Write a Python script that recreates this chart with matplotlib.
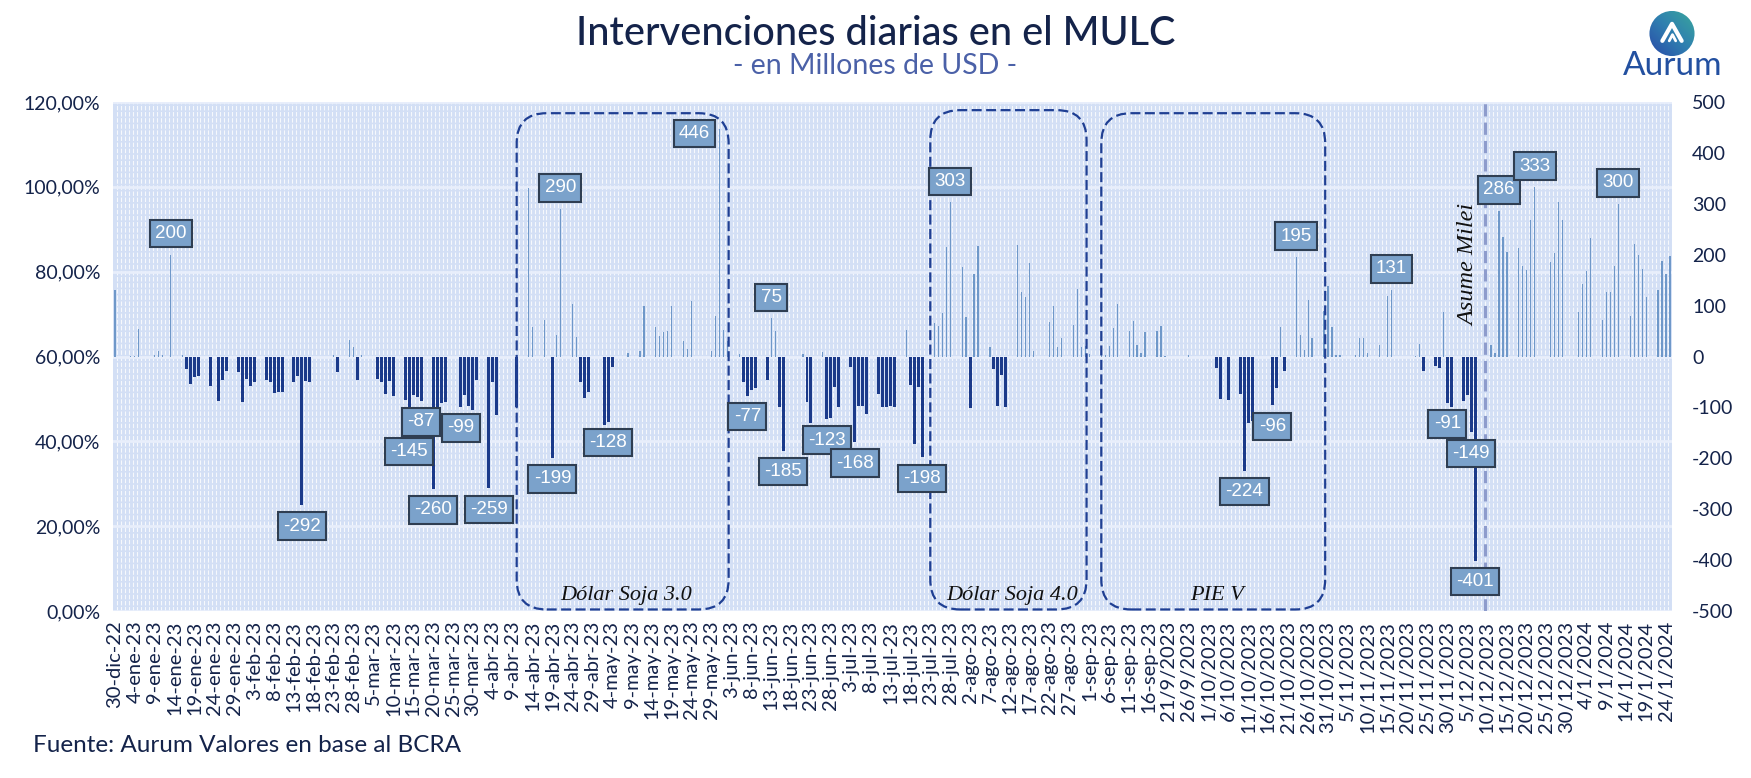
import matplotlib
matplotlib.use("Agg")
import matplotlib.pyplot as plt
from matplotlib.patches import FancyBboxPatch, Circle
import numpy as np
import pandas as pd

# Intervenciones diarias del BCRA en el MULC, millones de USD
ene_mar_23 = [
    ("2022-12-30", 131), ("2023-01-03", 1), ("2023-01-04", 1), ("2023-01-05", 54),
    ("2023-01-09", 3), ("2023-01-10", 11), ("2023-01-11", 3), ("2023-01-13", 200),
    ("2023-01-16", 3), ("2023-01-17", -25), ("2023-01-18", -54), ("2023-01-19", -41),
    ("2023-01-20", -38), ("2023-01-23", -58), ("2023-01-25", -87), ("2023-01-26", -46),
    ("2023-01-27", -29), ("2023-01-30", -31), ("2023-01-31", -90), ("2023-02-01", -45),
    ("2023-02-02", -58), ("2023-02-03", -50), ("2023-02-06", -46), ("2023-02-07", -50),
    ("2023-02-08", -72), ("2023-02-09", -70), ("2023-02-10", -70), ("2023-02-13", -50),
    ("2023-02-14", -39), ("2023-02-15", -292), ("2023-02-16", -48), ("2023-02-17", -50),
    ("2023-02-23", 3), ("2023-02-24", -31), ("2023-02-27", 33), ("2023-02-28", 19),
    ("2023-03-01", -46), ("2023-03-02", 2), ("2023-03-06", -45), ("2023-03-07", -51),
    ("2023-03-08", -73), ("2023-03-09", -49), ("2023-03-10", -77), ("2023-03-13", -86),
    ("2023-03-14", -145), ("2023-03-15", -75), ("2023-03-16", -80), ("2023-03-17", -87),
    ("2023-03-20", -260), ("2023-03-21", -100), ("2023-03-22", -92), ("2023-03-23", -90),
    ("2023-03-27", -99), ("2023-03-28", -76), ("2023-03-29", -97), ("2023-03-30", -105),
    ("2023-03-31", -46),
]
abr_jun_23 = [
    ("2023-04-03", -259), ("2023-04-04", -51), ("2023-04-05", -115), ("2023-04-10", -100),
    ("2023-04-13", 331), ("2023-04-14", 58), ("2023-04-17", 72), ("2023-04-19", -199),
    ("2023-04-20", 43), ("2023-04-21", 290), ("2023-04-24", 104), ("2023-04-25", 39),
    ("2023-04-26", -51), ("2023-04-27", -82), ("2023-04-28", -69), ("2023-05-02", -134),
    ("2023-05-03", -128), ("2023-05-04", -20), ("2023-05-08", 6), ("2023-05-11", 10),
    ("2023-05-12", 100), ("2023-05-15", 58), ("2023-05-16", 41), ("2023-05-17", 49),
    ("2023-05-18", 50), ("2023-05-19", 100), ("2023-05-22", 31), ("2023-05-23", 14),
    ("2023-05-24", 109), ("2023-05-29", 11), ("2023-05-30", 80), ("2023-05-31", 446),
    ("2023-06-01", 52), ("2023-06-02", 31), ("2023-06-05", 4), ("2023-06-06", -51),
    ("2023-06-07", -77), ("2023-06-08", -65), ("2023-06-09", -61), ("2023-06-12", -46),
    ("2023-06-13", 75), ("2023-06-14", 50), ("2023-06-15", -99), ("2023-06-16", -185),
    ("2023-06-21", 4), ("2023-06-22", -90), ("2023-06-23", -130), ("2023-06-26", 8),
    ("2023-06-27", -123), ("2023-06-28", -120), ("2023-06-29", -59), ("2023-06-30", -100),
]
jul_sep_23 = [
    ("2023-07-03", -20), ("2023-07-04", -168), ("2023-07-05", -98), ("2023-07-06", -98),
    ("2023-07-07", -113), ("2023-07-10", -74), ("2023-07-11", -99), ("2023-07-12", -100),
    ("2023-07-13", -98), ("2023-07-14", -100), ("2023-07-17", 52), ("2023-07-18", -56),
    ("2023-07-19", -172), ("2023-07-20", -59), ("2023-07-21", -198), ("2023-07-24", 65),
    ("2023-07-25", 60), ("2023-07-26", 86), ("2023-07-27", 216), ("2023-07-28", 303),
    ("2023-07-31", 175), ("2023-08-01", 77), ("2023-08-02", -101), ("2023-08-03", 163),
    ("2023-08-04", 217), ("2023-08-07", 19), ("2023-08-08", -25), ("2023-08-09", -98),
    ("2023-08-10", -37), ("2023-08-11", -99), ("2023-08-14", 219), ("2023-08-15", 126),
    ("2023-08-16", 116), ("2023-08-17", 184), ("2023-08-18", 10), ("2023-08-22", 67),
    ("2023-08-23", 100), ("2023-08-24", 19), ("2023-08-25", 36), ("2023-08-28", 62),
    ("2023-08-29", 132), ("2023-08-30", 19), ("2023-08-31", 21), ("2023-09-01", 5),
    ("2023-09-04", 2), ("2023-09-05", 3), ("2023-09-06", 21), ("2023-09-07", 56),
    ("2023-09-08", 104), ("2023-09-11", 50), ("2023-09-12", 69), ("2023-09-13", 23),
    ("2023-09-14", 7), ("2023-09-15", 49), ("2023-09-18", 50), ("2023-09-19", 60),
    ("2023-09-20", 1), ("2023-09-26", 2),
]
oct_dic_23 = [
    ("2023-10-03", -22), ("2023-10-04", -83), ("2023-10-06", -86), ("2023-10-09", -73),
    ("2023-10-10", -224), ("2023-10-11", -131), ("2023-10-12", -126), ("2023-10-17", -96),
    ("2023-10-18", -62), ("2023-10-19", 57), ("2023-10-20", -29), ("2023-10-23", 195),
    ("2023-10-24", 43), ("2023-10-25", 12), ("2023-10-26", 111), ("2023-10-27", 37),
    ("2023-10-30", 90), ("2023-10-31", 139), ("2023-11-01", 57), ("2023-11-02", 2),
    ("2023-11-03", 2), ("2023-11-07", 2), ("2023-11-08", 37), ("2023-11-09", 36),
    ("2023-11-10", 6), ("2023-11-13", 23), ("2023-11-15", 119), ("2023-11-16", 131),
    ("2023-11-22", 1), ("2023-11-23", 24), ("2023-11-24", -28), ("2023-11-27", -18),
    ("2023-11-28", -23), ("2023-11-29", 88), ("2023-11-30", -91), ("2023-12-01", -100),
    ("2023-12-04", -87), ("2023-12-05", -76), ("2023-12-06", -149), ("2023-12-07", -401),
    ("2023-12-11", 23), ("2023-12-12", 7), ("2023-12-13", 286), ("2023-12-14", 235),
    ("2023-12-15", 206), ("2023-12-18", 213), ("2023-12-19", 178), ("2023-12-20", 170),
    ("2023-12-21", 268), ("2023-12-22", 333), ("2023-12-26", 186), ("2023-12-27", 203),
    ("2023-12-28", 304), ("2023-12-29", 268),
]
ene_24 = [
    ("2024-01-02", 88), ("2024-01-03", 142), ("2024-01-04", 167), ("2024-01-05", 232),
    ("2024-01-08", 72), ("2024-01-09", 127), ("2024-01-10", 126), ("2024-01-11", 177),
    ("2024-01-12", 300), ("2024-01-15", 80), ("2024-01-16", 221), ("2024-01-17", 200),
    ("2024-01-18", 172), ("2024-01-19", 116), ("2024-01-22", 131), ("2024-01-23", 188),
    ("2024-01-24", 163), ("2024-01-25", 198),
]

# días con etiqueta de valor
etiquetados = [
    "2023-01-13", "2023-02-15", "2023-03-14", "2023-03-17", "2023-03-20", "2023-03-27",
    "2023-04-03", "2023-04-19", "2023-04-21", "2023-05-03", "2023-05-31", "2023-06-07",
    "2023-06-13", "2023-06-16", "2023-06-27", "2023-07-04", "2023-07-21", "2023-07-28",
    "2023-10-10", "2023-10-17", "2023-10-23", "2023-11-16", "2023-11-30", "2023-12-06",
    "2023-12-07", "2023-12-13", "2023-12-22", "2024-01-12",
]

# períodos de tipo de cambio diferencial
periodos = [
    ("2023-04-10", "2023-06-02", "Dólar Soja 3.0"),
    ("2023-07-23", "2023-08-31", "Dólar Soja 4.0"),
    ("2023-09-04", "2023-10-30", "PIE V"),
]
ASUME_MILEI = "2023-12-10"

INICIO = pd.Timestamp("2022-12-30")
FIN = pd.Timestamp("2024-01-25")
MESES = ["ene", "feb", "mar", "abr", "may", "jun", "jul", "ago", "sep", "oct", "nov", "dic"]

NAVY = "#14234a"
DARK_BAR = "#1b3a8a"
LIGHT_BAR = "#6f98c9"
BOX_BLUE = "#1f3f93"


def idx(fecha):
    return (pd.Timestamp(fecha) - INICIO).days


def etiqueta_fecha(f):
    if f < pd.Timestamp("2023-09-21"):
        return f"{f.day}-{MESES[f.month - 1]}-{f:%y}"
    return f"{f.day}/{f.month}/{f.year}"


def main():
    datos = ene_mar_23 + abr_jun_23 + jul_sep_23 + oct_dic_23 + ene_24
    x = np.array([idx(f) for f, _ in datos])
    v = np.array([m for _, m in datos], dtype=float)
    valores = dict(zip([f for f, _ in datos], v))
    n_dias = idx(FIN) + 1

    plt.rcParams["font.family"] = ["Lato", "DejaVu Sans"]

    fig = plt.figure(figsize=(17.51, 7.78), dpi=100)
    W, H = 1559, 509
    ax = fig.add_axes([113 / 1751, 1 - 611 / 778, W / 1751, H / 778])
    ax2 = ax.twinx()

    # fondo rayado
    ax.set_facecolor("#d3dff5")
    ax.vlines(np.arange(n_dias) + 0.5, 0, 1.2, color="white", lw=0.8, alpha=0.8,
              linestyles=(0, (4, 1.5)), zorder=0)
    ax.set_xlim(-0.5, n_dias - 0.5)
    ax.set_ylim(0, 1.2)
    ax.set_yticks(np.arange(0, 1.21, 0.2))
    ax.set_yticklabels([f"{t * 100:.2f}%".replace(".", ",") for t in np.arange(0, 1.21, 0.2)])
    ax.grid(axis="y", color="#e8eefb", lw=2, zorder=0.5)
    ax.set_axisbelow(True)

    ticks = np.arange(0, n_dias, 5)
    ax.set_xticks(ticks)
    ax.set_xticklabels([etiqueta_fecha(INICIO + pd.Timedelta(days=int(t))) for t in ticks],
                       rotation=90)
    ax.tick_params(axis="x", length=0, pad=7, labelsize=14.5, labelcolor=NAVY)
    ax.tick_params(axis="y", length=0, pad=9, labelsize=14, labelcolor=NAVY)

    # barras
    neg = v < 0
    ax2.bar(x[neg], v[neg], width=0.75, color=DARK_BAR, zorder=3)
    ax2.bar(x[~neg], v[~neg], width=0.3, color=LIGHT_BAR, zorder=3)
    ax2.set_ylim(-500, 500)
    ax2.set_yticks(np.arange(-500, 501, 100))
    ax2.set_yticklabels([str(t) for t in range(-500, 501, 100)])
    ax2.tick_params(axis="y", length=0, pad=14.5, labelsize=14, labelcolor=NAVY)
    for a in (ax, ax2):
        for s in a.spines.values():
            s.set_visible(False)

    # etiquetas de valor
    for f in etiquetados:
        val = valores[f]
        dx, dy = (0, 21) if val > 0 else (0, -21)
        if f == "2023-05-31":
            dx, dy = -25, -4
        ax2.annotate(f"{val:.0f}", (idx(f), val), xytext=(dx, dy), textcoords="offset pixels",
                     ha="center", va="center", color="white", fontsize=13.5,
                     family=["Liberation Sans"], zorder=6,
                     bbox=dict(boxstyle="square,pad=0.28", fc="#7ba2cb", ec="#2f3e52", lw=1.5))

    # recuadros de períodos
    trans = ax2.transData + ax2.transAxes.inverted()
    for ini, fin, nombre in periodos:
        tope = 484 if "4.0" in nombre else 478
        (x0, y0) = trans.transform((idx(ini), -497))
        (x1, y1) = trans.transform((idx(fin) + 0.3, tope))
        box = FancyBboxPatch((x0, y0), x1 - x0, y1 - y0,
                             boxstyle="round,pad=0,rounding_size=%f" % (30 / W),
                             mutation_aspect=W / H, transform=ax2.transAxes,
                             fill=False, ec=BOX_BLUE, lw=1.6, ls=(0, (4.5, 2)),
                             clip_on=False, zorder=4)
        ax2.add_patch(box)
        ax2.text((idx(ini) + idx(fin)) / 2 + 1, -470, nombre, ha="center", va="center",
                 family=["Liberation Serif"], style="italic", fontsize=16, color="#111111",
                 zorder=5)

    # asunción de Milei
    xm = idx(ASUME_MILEI) - 0.5
    ax2.axvline(xm, color="#8e9ccc", lw=2.2, ls=(0, (4, 2)), zorder=4)
    ax2.annotate("Asume Milei", (xm, 180), xytext=(-16, 0), textcoords="offset pixels",
                 rotation=90, ha="center", va="center", family=["Liberation Serif"],
                 style="italic", fontsize=17.5, color="#111111", zorder=5)

    # títulos
    fig.text(0.5, 1 - 33.5 / 778, "Intervenciones diarias en el MULC", ha="center",
             va="center", fontsize=28.5, fontweight="medium", color=NAVY)
    fig.text(0.5, 1 - 66 / 778, "- en Millones de USD -", ha="center", va="center",
             fontsize=20.5, color="#4b61a8")
    fig.text(33 / 1751, 1 - 746 / 778, "Fuente: Aurum Valores en base al BCRA",
             ha="left", va="center", fontsize=17.5, color=NAVY)

    # logo
    lax = fig.add_axes([(1672 - 23) / 1751, 1 - (33.5 + 23) / 778, 46 / 1751, 46 / 778])
    lax.set_xlim(-1, 1)
    lax.set_ylim(-1, 1)
    lax.axis("off")
    gx, gy = np.meshgrid(np.linspace(-1, 1, 100), np.linspace(-1, 1, 100))
    im = lax.imshow(gx + gy, extent=(-1, 1, -1, 1), origin="lower",
                    cmap=matplotlib.colors.LinearSegmentedColormap.from_list(
                        "aurum", ["#2a4aa8", "#2f7fb0", "#3aa89c"]))
    im.set_clip_path(Circle((0, 0), 0.98, transform=lax.transData))
    lax.plot([-0.42, 0, 0.42], [-0.32, 0.42, -0.32], color="white", lw=3,
             solid_capstyle="round", solid_joinstyle="round")
    lax.plot([-0.12, 0.02, 0.16], [-0.32, -0.05, -0.32], color="white", lw=2,
             solid_capstyle="round")
    fig.text(1673 / 1751, 1 - 66 / 778, "Aurum", ha="center", va="center",
             fontsize=24, color="#2350a0")

    fig.savefig("out.png", dpi=100)


if __name__ == "__main__":
    main()
